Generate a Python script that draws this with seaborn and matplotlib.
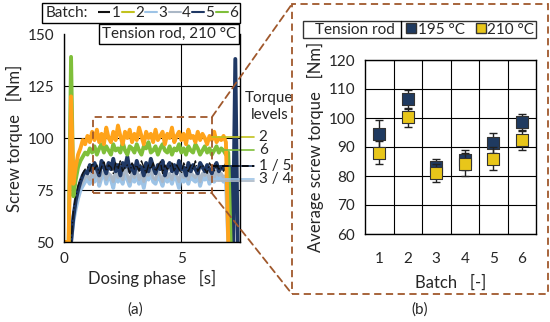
import matplotlib.pyplot as plt
import numpy as np
import pandas as pd
import seaborn as sns
from matplotlib.lines import Line2D
from matplotlib.patches import Rectangle, ConnectionPatch

# Left panel: screw torque over dosing time, sampled every 0.1 s (0.0 ... 7.4 s)
time_s = np.round(np.arange(0, 75) * 0.1, 1)

torque_b1 = [50, 50, 50, 50, 65, 72, 77, 80, 83, 85,
             86, 84, 88, 85, 87, 83, 86, 89, 84, 87,
             86, 83, 88, 85, 89, 84, 86, 87, 83, 88,
             85, 87, 84, 89, 86, 83, 87, 85, 88, 84,
             86, 89, 83, 87, 85, 86, 88, 84, 87, 85,
             83, 88, 86, 84, 87, 85, 89, 84, 86, 87,
             85, 83, 88, 86, 84, 87, 85, 86, 84, 86,
             86, 50, 48, 48, 48]
torque_b2 = [50, 50, 50, 120, 78, 86, 92, 95, 99, 97,
             101, 98, 103, 99, 104, 98, 102, 97, 105, 100,
             98, 103, 99, 106, 101, 97, 103, 100, 104, 98,
             102, 99, 105, 101, 97, 103, 100, 102, 98, 104,
             99, 101, 103, 97, 102, 100, 105, 98, 101, 103,
             99, 102, 97, 104, 100, 101, 98, 103, 99, 102,
             100, 97, 101, 99, 103, 98, 100, 99, 101, 98,
             50, 48, 48, 48, 48]
torque_b3 = [50, 50, 50, 50, 60, 66, 71, 75, 77, 79,
             80, 78, 82, 79, 84, 77, 81, 83, 78, 82,
             80, 76, 83, 79, 81, 78, 84, 80, 77, 82,
             79, 83, 78, 81, 76, 82, 80, 84, 79, 78,
             82, 80, 77, 83, 79, 81, 78, 82, 80, 76,
             83, 79, 81, 78, 82, 80, 79, 83, 77, 81,
             80, 82, 78, 81, 79, 82, 80, 81, 79, 80,
             50, 48, 48, 48, 48]
torque_b4 = [50, 50, 50, 50, 63, 69, 74, 77, 79, 81,
             82, 80, 84, 81, 85, 79, 83, 84, 80, 83,
             82, 79, 85, 81, 83, 80, 86, 82, 79, 84,
             81, 85, 80, 83, 79, 84, 82, 85, 81, 80,
             84, 82, 79, 85, 81, 83, 80, 84, 82, 79,
             84, 81, 83, 80, 84, 82, 81, 85, 79, 83,
             82, 84, 80, 83, 81, 84, 82, 83, 81, 82,
             82, 50, 48, 48, 48]
torque_b5 = [50, 50, 50, 50, 62, 70, 75, 79, 82, 84,
             83, 87, 84, 88, 85, 82, 89, 86, 83, 88,
             85, 90, 84, 87, 82, 88, 86, 91, 84, 87,
             83, 89, 85, 86, 82, 88, 84, 90, 86, 83,
             87, 85, 89, 82, 86, 88, 84, 87, 83, 89,
             85, 86, 82, 88, 84, 87, 85, 83, 88, 86,
             84, 87, 85, 83, 86, 88, 84, 86, 85, 87,
             85, 86, 50, 138, 48]
torque_b6 = [50, 50, 50, 139, 72, 80, 86, 89, 91, 93,
             92, 95, 93, 96, 92, 95, 97, 93, 96, 94,
             92, 97, 94, 95, 93, 98, 94, 92, 96, 95,
             93, 97, 94, 92, 96, 95, 98, 93, 94, 96,
             92, 95, 97, 94, 93, 96, 92, 95, 94, 97,
             93, 95, 92, 96, 94, 93, 97, 95, 92, 94,
             96, 93, 95, 92, 94, 96, 93, 95, 94, 92,
             93, 50, 48, 48, 48]

level_labels = ["2", "6", "1 / 5", "3 / 4"]
level_values = [100.5, 94.0, 86.5, 80.5]

# Right panel: average screw torque per batch
batches = [1, 2, 3, 4, 5, 6]
mean_195 = [94.5, 106.5, 83.0, 85.5, 91.3, 98.5]
err_195 = [4.8, 3.3, 3.0, 3.3, 3.5, 3.0]
mean_210 = [88.0, 100.3, 81.0, 84.0, 86.0, 92.5]
err_210 = [4.0, 3.3, 3.2, 4.0, 4.0, 3.5]

# colours
c1, c2, c3, c4, c5, c6 = "#111111", "#ffa31a", "#9dc3e6", "#aab7c6", "#1f3864", "#7fbf3a"
c2_leg = "#c2c21e"
brown = "#a0582c"
navy = "#1f3a60"
gold = "#e8c61a"
FS = 11

sns.set_theme(style="white")
plt.rcParams["font.family"] = ["Lato", "DejaVu Sans"]
plt.rcParams["font.size"] = FS

fig = plt.figure(figsize=(5.5, 3.22), dpi=100)
W, H = 550, 322


def fx(px):
    return px / W


def fy(py):
    return 1 - py / H


ax1 = fig.add_axes([fx(64), fy(242), fx(240) - fx(64), fy(34) - fy(242)])
ax2 = fig.add_axes([fx(365), fy(234), fx(536) - fx(365), fy(60) - fy(234)])

# ---- left panel
df = pd.DataFrame({
    "time": np.tile(time_s, 6),
    "torque": torque_b1 + torque_b2 + torque_b3 + torque_b4 + torque_b5 + torque_b6,
    "batch": np.repeat(["1", "2", "3", "4", "5", "6"], len(time_s)),
})
styles = {"3": (c3, "-", 2.8), "4": (c4, "-", 2.2), "5": (c5, "-", 2.8),
          "1": (c1, "-.", 1.0), "6": (c6, "-", 2.8), "2": (c2, "-", 2.8)}
for b in ["3", "4", "5", "1", "6", "2"]:
    col, ls, lw = styles[b]
    sns.lineplot(data=df[df["batch"] == b], x="time", y="torque", ax=ax1,
                 color=col, linestyle=ls, lw=lw, estimator=None, legend=False)

ax1.set_xlim(0, 7.5)
ax1.set_ylim(50, 150)
ax1.set_xticks([0, 5])
ax1.set_yticks([50, 75, 100, 125, 150])
ax1.grid(True, color="black", lw=0.8)
ax1.yaxis.get_gridlines()[-1].set_visible(False)
ax1.set_axisbelow(True)
for s in ["left", "bottom", "right"]:
    ax1.spines[s].set_color("black")
    ax1.spines[s].set_linewidth(1)
ax1.spines["top"].set_visible(False)
ax1.tick_params(axis="both", length=4, width=1, color="black", direction="out", pad=3)
ax1.set_xlabel("Dosing phase   [s]", labelpad=3)
ax1.set_ylabel("Screw torque   [Nm]", labelpad=3)

# torque level markers beyond the plot area
level_cols = [c2_leg, c6, c5, c3]
for lab, val, col in zip(level_labels, level_values, level_cols):
    ax1.plot([6.3, 8.1], [val, val], color=col, lw=1.2, clip_on=False)
    if lab == "1 / 5":
        ax1.plot([6.3, 8.1], [val, val], color="black", lw=1.2, ls=(0, (4, 2)), clip_on=False)
    if lab == "3 / 4":
        ax1.plot([6.3, 8.1], [val - 1.2, val - 1.2], color=c4, lw=1.2, clip_on=False)
    ax1.text(8.3, val, lab, va="center", ha="left", fontsize=FS, clip_on=False)
ax1.text(8.75, 115, "Torque\nlevels", ha="center", va="center", fontsize=FS, linespacing=1.25)

# zoom box
ax1.add_patch(Rectangle((1.25, 73.5), 5.05, 36.5, fill=False, ec=brown, lw=1.3,
                        ls=(0, (4, 2.5)), clip_on=False, zorder=5))

# ---- right panel
ax2.errorbar(batches, mean_195, yerr=err_195, fmt="none", ecolor="#222222",
             elinewidth=1, capsize=3, capthick=1, zorder=3)
sns.scatterplot(x=batches, y=mean_195, ax=ax2, marker="s", s=70, color=navy,
                edgecolor="#333333", linewidth=0.8, zorder=4)
ax2.errorbar(batches, mean_210, yerr=err_210, fmt="none", ecolor="#222222",
             elinewidth=1, capsize=3, capthick=1, zorder=5)
sns.scatterplot(x=batches, y=mean_210, ax=ax2, marker="s", s=70, color=gold,
                edgecolor="#333333", linewidth=0.8, zorder=6)

ax2.set_xlim(0.5, 6.5)
ax2.set_ylim(60, 120)
ax2.set_yticks(range(60, 121, 10))
ax2.set_xticks(batches)
ax2.set_xticks([1.5, 2.5, 3.5, 4.5, 5.5], minor=True)
ax2.grid(True, which="minor", axis="x", color="black", lw=0.8)
ax2.grid(True, which="major", axis="y", color="black", lw=0.8)
ax2.set_axisbelow(True)
for s in ax2.spines.values():
    s.set_color("black")
    s.set_linewidth(1)
ax2.tick_params(axis="x", which="major", length=0, pad=13)
ax2.tick_params(axis="x", which="minor", length=4, width=1, color="black", direction="inout")
ax2.tick_params(axis="y", length=4, width=1, color="black", direction="out", pad=3)
ax2.set_xlabel("Batch   [-]", labelpad=6)
ax2.set_ylabel("Average screw torque   [Nm]", labelpad=3)

# ---- legends and boxes
# batch legend: frame drawn by hand so that "Batch:" sits inside it
fig.add_artist(Rectangle((fx(42), fy(23)), fx(240) - fx(42), fy(3) - fy(23),
                         transform=fig.transFigure, fc="white", ec="black", lw=1, zorder=4))
fig.text(fx(46), fy(13), "Batch:", ha="left", va="center", fontsize=FS, zorder=5)
h_batch = [Line2D([], [], color=c1, lw=1.5, ls="-."),
           Line2D([], [], color=c2_leg, lw=1.5),
           Line2D([], [], color=c3, lw=1.5),
           Line2D([], [], color=c4, lw=1.5),
           Line2D([], [], color=c5, lw=1.5),
           Line2D([], [], color=c6, lw=1.5)]
leg1 = fig.legend(h_batch, ["1", "2", "3", "4", "5", "6"], ncol=6,
                  loc="center right", bbox_to_anchor=(fx(238), fy(13)), frameon=False,
                  handlelength=0.8, handletextpad=0.08, columnspacing=0.08,
                  borderpad=0, borderaxespad=0, fontsize=FS)
leg1.set_zorder(6)

fig.text(fx(236), fy(34), "Tension rod, 210 °C", ha="right", va="center", fontsize=FS,
         bbox=dict(boxstyle="square,pad=0.2", fc="white", ec="black", lw=1))

blank = Line2D([], [], color="none")
h_temp = [blank,
          Line2D([], [], color="none", marker="s", ms=7, mfc=navy, mec="#333333"),
          Line2D([], [], color="none", marker="s", ms=7, mfc=gold, mec="#333333")]
leg2 = fig.legend(h_temp, ["Tension rod", "195 °C", "210 °C"], ncol=3, loc="upper right",
                  bbox_to_anchor=(fx(536), fy(21)), frameon=True, fancybox=False,
                  edgecolor="black", handlelength=0.6, handletextpad=0.1,
                  columnspacing=0.8, borderpad=0.1, borderaxespad=0, fontsize=FS)
leg2.get_frame().set_linewidth(1)
leg2.legend_handles[0].set_visible(False)

# divider after "Tension rod" inside the legend box
fig.canvas.draw()
r = fig.canvas.get_renderer()
t_ext = leg2.get_texts()[0].get_window_extent(r)
f_ext = leg2.get_frame().get_window_extent(r)
xd = (t_ext.x1 + 6) / fig.bbox.width
fig.add_artist(Line2D([xd, xd], [f_ext.y0 / fig.bbox.height, f_ext.y1 / fig.bbox.height],
                      transform=fig.transFigure, color="black", lw=1, zorder=10))

# dashed frame round panel (b) and connectors
fig.add_artist(Rectangle((fx(292), fy(294)), fx(548) - fx(292), fy(4) - fy(294),
                         transform=fig.transFigure, fill=False, ec=brown, lw=1.3,
                         ls=(0, (4, 2.5))))
for ya, yb in [(110, 4), (73.5, 294)]:
    con = ConnectionPatch(xyA=(6.3, ya), coordsA=ax1.transData,
                          xyB=(fx(292), fy(yb)), coordsB=fig.transFigure,
                          color=brown, lw=1.3, ls=(0, (4, 2.5)))
    fig.add_artist(con)

fig.text(fx(135), fy(310), "(a)", ha="center", va="center", fontsize=FS)
fig.text(fx(420), fy(310), "(b)", ha="center", va="center", fontsize=FS)

fig.savefig("out.png", dpi=100)
